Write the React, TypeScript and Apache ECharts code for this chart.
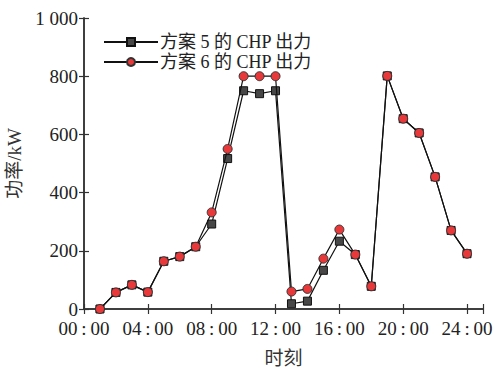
import React, { useEffect, useRef } from "react";
import * as echarts from "echarts";

const hours = [1, 2, 3, 4, 5, 6, 7, 8, 9, 10, 11, 12, 13, 14, 15, 16, 17, 18, 19, 20, 21, 22, 23, 24];
const plan5 = [0, 57, 83, 58, 164, 180, 214, 292, 517, 750, 740, 750, 18, 27, 133, 233, 187, 78, 801, 654, 605, 454, 270, 190];
const plan6 = [0, 57, 83, 58, 164, 180, 214, 332, 550, 800, 800, 800, 60, 69, 173, 273, 187, 78, 801, 654, 605, 454, 270, 190];
const seriesNames = ["方案 5 的 CHP 出力", "方案 6 的 CHP 出力"];
const xTickLabels = ["00\u2009:\u200900", "04\u2009:\u200900", "08\u2009:\u200900", "12\u2009:\u200900", "16\u2009:\u200900", "20\u2009:\u200900", "24\u2009:\u200900"];
const yTickLabels = ["0", "200", "400", "600", "800", "1 000"];

const FONT = "'Liberation Serif', 'Times New Roman', 'Noto Sans CJK SC', serif";
const AXIS_COLOR = "#333";

export default function App() {
  const ref = useRef<HTMLDivElement>(null);
  useEffect(() => {
    if (!ref.current) return;
    const chart = echarts.init(ref.current, undefined, { renderer: "svg" });
    const axisLine = { show: true, lineStyle: { color: AXIS_COLOR, width: 1.5 } };
    const axisTick = { show: true, inside: true, length: 5, lineStyle: { color: AXIS_COLOR, width: 1.2 } };
    chart.setOption({
      animation: false,
      backgroundColor: "#fff",
      textStyle: { fontFamily: FONT },
      grid: { left: 84, right: 14, top: 18, bottom: 60, containLabel: false, outerBoundsMode: "none" },
      legend: {
        left: 98,
        top: 28,
        orient: "vertical",
        itemWidth: 54,
        itemHeight: 10,
        itemGap: 2,
        textStyle: { fontFamily: FONT, fontSize: 18, color: "#222", padding: [0, 0, 0, -3] },
        data: seriesNames,
      },
      xAxis: [
        {
          type: "value",
          min: 0,
          max: 25,
          interval: 4,
          name: "时刻",
          nameLocation: "middle",
          nameGap: 40,
          nameTextStyle: { fontFamily: FONT, fontSize: 19, color: "#333" },
          axisLine,
          axisTick,
          splitLine: { show: false },
          axisLabel: {
            fontFamily: FONT,
            fontSize: 19,
            color: "#222",
            margin: 10,
            formatter: (v: number) => (v % 4 === 0 ? xTickLabels[v / 4] ?? "" : ""),
          },
        },
        {
          type: "value",
          position: "top",
          min: 0,
          max: 25,
          interval: 4,
          axisLine,
          axisTick,
          axisLabel: { show: false },
          splitLine: { show: false },
        },
      ],
      yAxis: [
        {
          type: "value",
          min: 0,
          max: 1000,
          interval: 200,
          name: "功率/kW",
          nameLocation: "middle",
          nameGap: 50,
          nameTextStyle: { fontFamily: FONT, fontSize: 19, color: "#333" },
          axisLine,
          axisTick,
          splitLine: { show: false },
          axisLabel: {
            fontFamily: FONT,
            fontSize: 19,
            lineHeight: 16,
            color: "#222",
            margin: 6,
            formatter: (v: number) => yTickLabels[v / 200] ?? "",
          },
        },
        {
          type: "value",
          position: "right",
          min: 0,
          max: 1000,
          interval: 200,
          axisLine,
          axisTick,
          axisLabel: { show: false },
          splitLine: { show: false },
        },
      ],
      series: [
        {
          name: seriesNames[0],
          type: "line",
          data: hours.map((h, i) => [h, plan5[i]]),
          symbol: "rect",
          symbolSize: 8,
          lineStyle: { color: "#111", width: 1.2 },
          itemStyle: { color: "#474747", borderColor: "#111", borderWidth: 1 },
          z: 2,
        },
        {
          name: seriesNames[1],
          type: "line",
          data: hours.map((h, i) => [h, plan6[i]]),
          symbol: "circle",
          symbolSize: 9,
          lineStyle: { color: "#111", width: 1.2 },
          itemStyle: { color: "#e8383a", borderColor: "#333", borderWidth: 1 },
          z: 3,
        },
      ],
    });
    return () => chart.dispose();
  }, []);
  return <div ref={ref} style={{ position: "absolute", left: 0, top: 0, width: 497, height: 369 }} />;
}
